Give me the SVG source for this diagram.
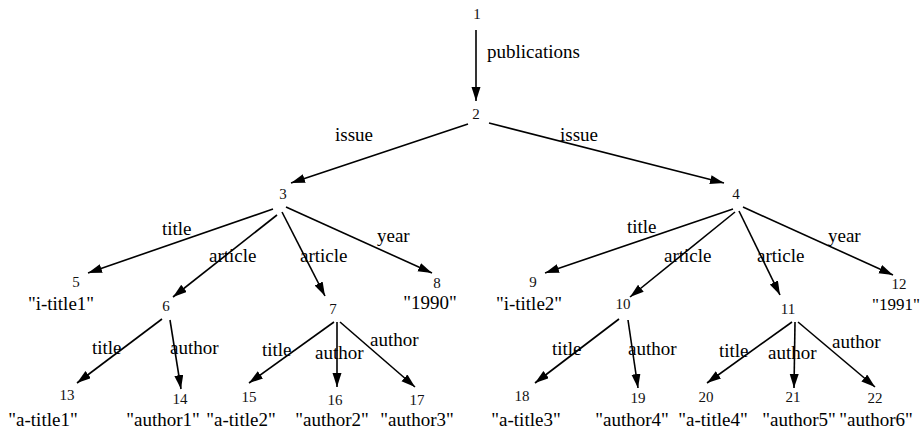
<svg xmlns="http://www.w3.org/2000/svg" width="921" height="430" viewBox="0 0 921 430">
<style>
  text { font-family: "Liberation Serif", "DejaVu Serif", serif; fill: #000; }
  .num { font-size: 15px; text-anchor: middle; fill: #111; }
  .val { font-size: 19px; text-anchor: middle; }
  .lbl { font-size: 19px; }
  .edge { stroke: #000; stroke-width: 1.6; fill: none; marker-end: url(#arrow); }
</style>
<defs>
  <marker id="arrow" markerUnits="userSpaceOnUse" markerWidth="15" markerHeight="10" refX="14" refY="4.5" orient="auto">
    <path d="M0,0 L14,4.5 L0,9 z" fill="#000"/>
  </marker>
</defs>
<rect width="921" height="430" fill="#fff"/>
<g id="connectors">
  <line class="edge" x1="476" y1="30" x2="476" y2="101"/>
  <line class="edge" x1="468" y1="124" x2="291" y2="183"/>
  <line class="edge" x1="489" y1="123" x2="724" y2="183"/>
  <line class="edge" x1="273" y1="209" x2="88" y2="273"/>
  <line class="edge" x1="277" y1="215" x2="173" y2="297"/>
  <line class="edge" x1="282" y1="212" x2="325" y2="296"/>
  <line class="edge" x1="286" y1="207" x2="432" y2="273"/>
  <line class="edge" x1="733" y1="209" x2="545" y2="273"/>
  <line class="edge" x1="735" y1="212" x2="630" y2="297"/>
  <line class="edge" x1="739" y1="211" x2="780" y2="295"/>
  <line class="edge" x1="743" y1="207" x2="893" y2="275"/>
  <line class="edge" x1="162" y1="319" x2="77" y2="383"/>
  <line class="edge" x1="170" y1="320" x2="181" y2="389"/>
  <line class="edge" x1="334" y1="322" x2="249" y2="383"/>
  <line class="edge" x1="337" y1="322" x2="337" y2="387"/>
  <line class="edge" x1="340" y1="322" x2="415" y2="387"/>
  <line class="edge" x1="619" y1="319" x2="535" y2="383"/>
  <line class="edge" x1="628" y1="320" x2="638" y2="388"/>
  <line class="edge" x1="792" y1="322" x2="707" y2="383"/>
  <line class="edge" x1="795" y1="322" x2="794" y2="388"/>
  <line class="edge" x1="798" y1="322" x2="875" y2="387"/>
</g>
<g id="edge-labels">
  <text class="lbl" x="487" y="58">publications</text>
  <text class="lbl" x="335" y="141">issue</text>
  <text class="lbl" x="560" y="141">issue</text>
  <text class="lbl" x="162" y="235">title</text>
  <text class="lbl" x="209" y="262">article</text>
  <text class="lbl" x="300" y="262">article</text>
  <text class="lbl" x="377" y="242">year</text>
  <text class="lbl" x="627" y="233">title</text>
  <text class="lbl" x="664" y="262">article</text>
  <text class="lbl" x="757" y="262">article</text>
  <text class="lbl" x="828" y="242">year</text>
  <text class="lbl" x="92" y="354">title</text>
  <text class="lbl" x="170" y="354">author</text>
  <text class="lbl" x="262" y="356">title</text>
  <text class="lbl" x="315" y="359">author</text>
  <text class="lbl" x="370" y="346">author</text>
  <text class="lbl" x="552" y="355">title</text>
  <text class="lbl" x="628" y="355">author</text>
  <text class="lbl" x="719" y="357">title</text>
  <text class="lbl" x="768" y="359">author</text>
  <text class="lbl" x="832" y="348">author</text>
</g>
<g id="n1"><text class="num" x="477" y="19">1</text></g>
<g id="n2"><text class="num" x="476" y="119">2</text></g>
<g id="n3"><text class="num" x="283" y="199">3</text></g>
<g id="n4"><text class="num" x="736" y="199">4</text></g>
<g id="n5"><text class="num" x="76" y="287">5</text><text class="val" x="61" y="310">"i-title1"</text></g>
<g id="n6"><text class="num" x="166" y="311">6</text></g>
<g id="n7"><text class="num" x="333" y="314">7</text></g>
<g id="n8"><text class="num" x="437" y="288">8</text><text class="val" x="430" y="309">"1990"</text></g>
<g id="n9"><text class="num" x="533" y="287">9</text><text class="val" x="529" y="310">"i-title2"</text></g>
<g id="n10"><text class="num" x="623" y="309">10</text></g>
<g id="n11"><text class="num" x="788" y="314">11</text></g>
<g id="n12"><text class="num" x="899" y="289">12</text><text class="val" x="896" y="310" style="font-size:17px">"1991"</text></g>
<g id="n13"><text class="num" x="67" y="400">13</text><text class="val" x="43" y="426">"a-title1"</text></g>
<g id="n14"><text class="num" x="180" y="404">14</text><text class="val" x="163" y="426">"author1"</text></g>
<g id="n15"><text class="num" x="249" y="402">15</text><text class="val" x="241" y="426">"a-title2"</text></g>
<g id="n16"><text class="num" x="335" y="405">16</text><text class="val" x="332" y="426">"author2"</text></g>
<g id="n17"><text class="num" x="417" y="405">17</text><text class="val" x="417" y="426">"author3"</text></g>
<g id="n18"><text class="num" x="522" y="401">18</text><text class="val" x="526" y="426">"a-title3"</text></g>
<g id="n19"><text class="num" x="638" y="403">19</text><text class="val" x="632" y="426">"author4"</text></g>
<g id="n20"><text class="num" x="706" y="402">20</text><text class="val" x="713" y="426">"a-title4"</text></g>
<g id="n21"><text class="num" x="793" y="402">21</text><text class="val" x="799" y="426">"author5"</text></g>
<g id="n22"><text class="num" x="875" y="403">22</text><text class="val" x="876" y="426">"author6"</text></g>
</svg>
